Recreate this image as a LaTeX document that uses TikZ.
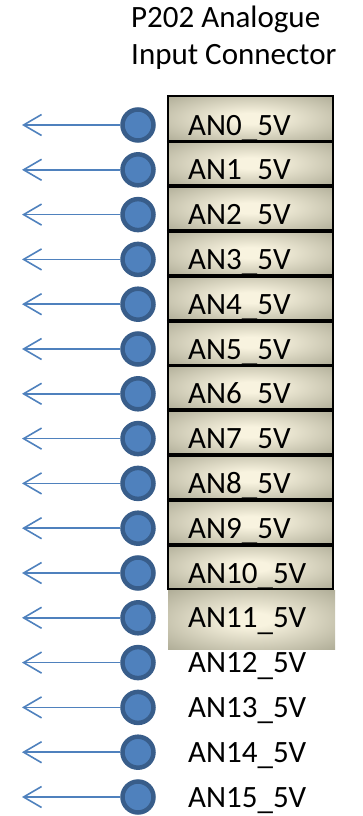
\documentclass[tikz,border=0pt]{standalone}
\usepackage{fontspec}
\setmainfont{Carlito}
\usepackage{tikz}
\usetikzlibrary{arrows.meta,positioning}
\definecolor{pinblue}{HTML}{4F81BD}
\definecolor{pinedge}{HTML}{385D8A}
\definecolor{boxcream}{HTML}{F8F3DF}
\definecolor{boxgrey}{HTML}{A09E88}
\pgfdeclareradialshading{slotshade}{\pgfpoint{0bp}{0bp}}{color(0bp)=(boxcream); color(6bp)=(boxcream); color(42bp)=(boxgrey); color(100bp)=(boxgrey)}
\newcommand{\us}{\raisebox{-2.5pt}{\_}}
\tikzset{pin/.style={circle,draw=pinedge,fill=pinblue,line width=4.5pt,minimum size=31pt,inner sep=0pt},
signal/.style={anchor=base west,inner sep=0pt,font=\fontsize{31}{37}\selectfont},
slot/.style={rectangle,draw=black,line width=2.5pt,shading=slotshade,
  minimum width=165pt,minimum height=44.8pt,inner sep=0pt},
bareslot/.style={rectangle,shading=slotshade,
  minimum width=167pt,minimum height=59pt,inner sep=0pt}
}

\begin{document}
\begin{tikzpicture}[x=1pt,y=-1pt,node distance=44.8pt,on grid,
  >={Straight Barb[length=18pt,width=21pt,line width=1.6pt]}]
    \useasboundingbox (0,0) rectangle (362,816);

    % title
    \node[anchor=north west,align=left,inner sep=0pt,font=\fontsize{31}{37}\selectfont]
      (title) at (131,6) {P202 Analogue\\Input Connector};

    % connector body
    \node[slot] (b0)  at (250.5,118.4) {};
    \node[slot] (b1)  [below=of b0] {};
    \node[slot] (b2)  [below=of b1] {};
    \node[slot] (b3)  [below=of b2] {};
    \node[slot] (b4)  [below=of b3] {};
    \node[slot] (b5)  [below=of b4] {};
    \node[slot] (b6)  [below=of b5] {};
    \node[slot] (b7)  [below=of b6] {};
    \node[slot] (b8)  [below=of b7] {};
    \node[slot] (b9)  [below=of b8] {};
    \node[slot] (b10) [below=of b9] {};
    \node[bareslot] (b11) at (251.5,619.5) {};

    % pins
    \node[pin] (p0)  at (138,125) {};
    \node[pin] (p1)  [below=of p0]  {};
    \node[pin] (p2)  [below=of p1]  {};
    \node[pin] (p3)  [below=of p2]  {};
    \node[pin] (p4)  [below=of p3]  {};
    \node[pin] (p5)  [below=of p4]  {};
    \node[pin] (p6)  [below=of p5]  {};
    \node[pin] (p7)  [below=of p6]  {};
    \node[pin] (p8)  [below=of p7]  {};
    \node[pin] (p9)  [below=of p8]  {};
    \node[pin] (p10) [below=of p9]  {};
    \node[pin] (p11) [below=of p10] {};
    \node[pin] (p12) [below=of p11] {};
    \node[pin] (p13) [below=of p12] {};
    \node[pin] (p14) [below=of p13] {};
    \node[pin] (p15) [below=of p14] {};

    % signal names
    \node[signal] (s0)  at (188,135.0) {AN0\us5V};
    \node[signal] (s1)  at (188,179.8) {AN1\us5V};
    \node[signal] (s2)  at (188,224.6) {AN2\us5V};
    \node[signal] (s3)  at (188,269.4) {AN3\us5V};
    \node[signal] (s4)  at (188,314.2) {AN4\us5V};
    \node[signal] (s5)  at (188,359.0) {AN5\us5V};
    \node[signal] (s6)  at (188,403.8) {AN6\us5V};
    \node[signal] (s7)  at (188,448.6) {AN7\us5V};
    \node[signal] (s8)  at (188,493.4) {AN8\us5V};
    \node[signal] (s9)  at (188,538.2) {AN9\us5V};
    \node[signal] (s10) at (188,583.0) {AN10\us5V};
    \node[signal] (s11) at (188,627.8) {AN11\us5V};
    \node[signal] (s12) at (188,672.6) {AN12\us5V};
    \node[signal] (s13) at (188,717.4) {AN13\us5V};
    \node[signal] (s14) at (188,762.2) {AN14\us5V};
    \node[signal] (s15) at (188,807.0) {AN15\us5V};

    % slot borders drawn again over the text
    \foreach \k in {0,...,9}
      \draw[line width=2.5pt] (b\k.south west) -- (b\k.south east);

    % outputs
    \coordinate (o0) at (22,125);
    \coordinate[below=of o0]  (o1);
    \coordinate[below=of o1]  (o2);
    \coordinate[below=of o2]  (o3);
    \coordinate[below=of o3]  (o4);
    \coordinate[below=of o4]  (o5);
    \coordinate[below=of o5]  (o6);
    \coordinate[below=of o6]  (o7);
    \coordinate[below=of o7]  (o8);
    \coordinate[below=of o8]  (o9);
    \coordinate[below=of o9]  (o10);
    \coordinate[below=of o10] (o11);
    \coordinate[below=of o11] (o12);
    \coordinate[below=of o12] (o13);
    \coordinate[below=of o13] (o14);
    \coordinate[below=of o14] (o15);

    \path[->,draw=pinblue,line width=1.6pt]
      (p0)  edge (o0)  (p1)  edge (o1)  (p2)  edge (o2)  (p3)  edge (o3)
      (p4)  edge (o4)  (p5)  edge (o5)  (p6)  edge (o6)  (p7)  edge (o7)
      (p8)  edge (o8)  (p9)  edge (o9)  (p10) edge (o10) (p11) edge (o11)
      (p12) edge (o12) (p13) edge (o13) (p14) edge (o14) (p15) edge (o15);
  \end{tikzpicture}
\end{document}
